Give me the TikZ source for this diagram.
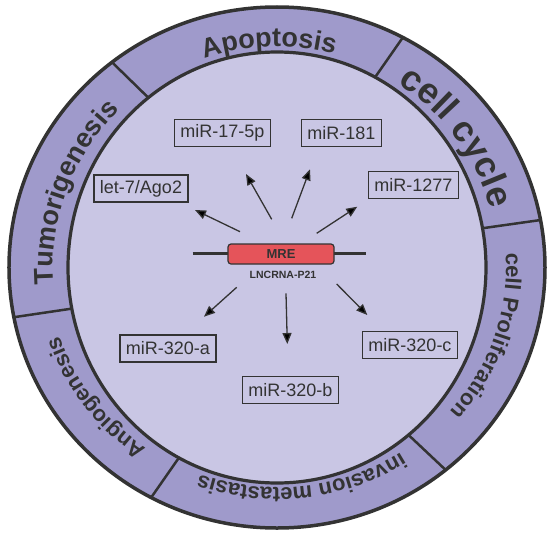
\documentclass[tikz,border=0pt]{standalone}
\usepackage{fontspec}
\setmainfont{Liberation Sans}
\usetikzlibrary{arrows.meta,decorations.text}
\definecolor{ring}{HTML}{9F9ACB}
\definecolor{disc}{HTML}{C9C6E4}
\definecolor{ink}{HTML}{333333}
\definecolor{mrered}{HTML}{E5545A}
\tikzset{
  mirbox/.style={draw=ink,line width=1.1pt,inner xsep=6pt,minimum height=27pt,
    text=ink,font=\fontsize{18}{18}\selectfont},
  mrebox/.style={draw=ink,line width=1.2pt,fill=mrered,rounded corners=3pt,
    minimum width=106pt,minimum height=20pt,text=ink,font=\bfseries\fontsize{13}{13}\selectfont},
  arr/.style={-{Triangle[length=11pt,width=9pt]},line width=1.3pt,draw=ink},
  divider/.style={line width=2.5pt,draw=ink},
  ringtext/.style 2 args={decorate,decoration={text along path,text align=center,
    text color=ink,text={|\bfseries\fontsize{#2}{#2}\selectfont|#1}}},
}
\begin{document}
\begin{tikzpicture}[x=1pt,y=1pt]
\useasboundingbox (-277,-268.5) rectangle (274,267.5);
% ring and segments
\fill[ring] (0,0) ellipse[x radius=268pt,y radius=260.5pt];
\foreach \a in {128,62,10.5,-51,-118,191}{
\draw[divider] (\a:209 and 215.5) -- (\a:268 and 260.5);}
\draw[ink,line width=3.2pt,fill=disc] (0,0) ellipse[x radius=209pt,y radius=215.5pt];
\draw[ink,line width=3.5pt] (0,0) ellipse[x radius=268pt,y radius=260.5pt];
% ring labels
\path[ringtext={Apoptosis}{27}] (122:224 and 221) arc[start angle=122,end angle=62,x radius=224pt,y radius=221pt];
\path[ringtext={cell cycle}{36}] (62:222 and 219) arc[start angle=62,end angle=10.5,x radius=222pt,y radius=219pt];
\path[ringtext={cell Proliferation}{22}] (14:229 and 220) arc[start angle=14,end angle=-51,x radius=229pt,y radius=220pt];
\path[ringtext={invasion metastasis}{22}] (-51:229 and 220) arc[start angle=-51,end angle=-116,x radius=229pt,y radius=220pt];
\path[ringtext={Angiogenesis}{22}] (242:229 and 220) arc[start angle=242,end angle=191,x radius=229pt,y radius=220pt];
\path[ringtext={Tumorigenesis}{27}] (191:224 and 221) arc[start angle=191,end angle=128,x radius=224pt,y radius=221pt];
% lncRNA with MRE
\coordinate (strandL) at (-84.3,14.2);
\coordinate (strandR) at (89,14.2);
\draw[ink,line width=3pt] (strandL) -- (strandR);
\node[mrebox] (mre) at (4,13.5) {MRE};
\node[text=ink,font=\bfseries\fontsize{10.5}{10.5}\selectfont] (lnc) at (6,-7) {LNCRNA-P21};
% miRNAs
\node[mirbox] (let7) at (-136,79) {let-7/Ago2};
\node[mirbox] (mir175p) at (-54.5,134.5) {miR-17-5p};
\node[mirbox] (mir181) at (64.5,134.5) {miR-181};
\node[mirbox] (mir1277) at (136.5,82.5) {miR-1277};
\node[mirbox] (mir320a) at (-109,-81) {miR-320-a};
\node[mirbox] (mir320b) at (13.5,-122.5) {miR-320-b};
\node[mirbox] (mir320c) at (133,-77.5) {miR-320-c};
% arrows
\foreach \n/\sx/\sy/\tx/\ty in {let/-37/35.8/-82/57.5,fsp/-5.3/48.2/-31/93.5,
  oeo/14.7/49.2/33/98.2,ots/39.7/34.2/80.3/60.8,tta/-40.3/-19.8/-73/-49.2,
  ttb/9/-25.8/10.3/-76.5,ttc/59.7/-16.5/90.3/-47.5}{
\coordinate (\n s) at (\sx,\sy);
\coordinate (\n t) at (\tx,\ty);
\draw[arr] (\n s) -- (\n t);}
\end{tikzpicture}
\end{document}
